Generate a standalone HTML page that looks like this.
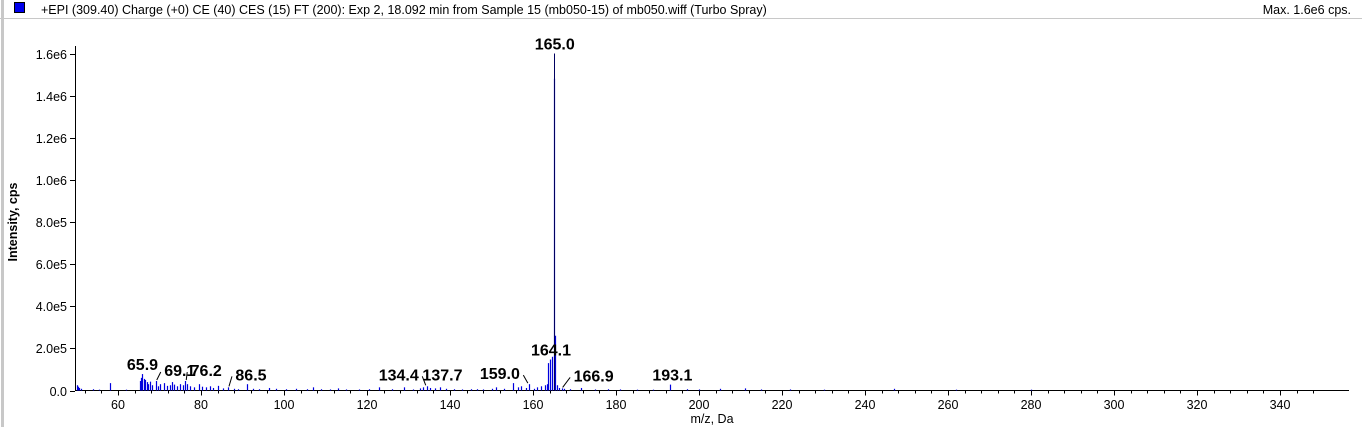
<!DOCTYPE html>
<html><head><meta charset="utf-8"><style>
html,body{margin:0;padding:0;background:#fff;}
svg{display:block;font-family:"Liberation Sans",Arial,sans-serif;}
</style></head><body>
<svg id="c" width="1362" height="427">
<rect x="0" y="0" width="1362" height="427" fill="#fff"/>
<line x1="2.5" y1="0" x2="2.5" y2="427" stroke="#c8c8c8" stroke-width="3"/>
<line x1="0" y1="18.5" x2="1362" y2="18.5" stroke="#c8c8c8"/>
<rect x="14.5" y="2.5" width="10" height="10" fill="#0000ee" stroke="#000" stroke-width="1"/>
<text x="41" y="14" font-size="12.5" fill="#000">+EPI (309.40) Charge (+0) CE (40) CES (15) FT (200): Exp 2, 18.092 min from Sample 15 (mb050-15) of mb050.wiff (Turbo Spray)</text>
<text x="1351" y="14" font-size="12.5" text-anchor="end" fill="#000">Max. 1.6e6 cps.</text>
<text transform="translate(17,222) rotate(-90)" font-size="12.5" font-weight="bold" text-anchor="middle">Intensity, cps</text>
<text x="712" y="423" font-size="12.5" text-anchor="middle">m/z, Da</text>
<g id="plot"></g>
</svg>
<script>
const xTicks=[60,80,100,120,140,160,180,200,220,240,260,280,300,320,340];
const yTicks=[0,200000,400000,600000,800000,1000000,1200000,1400000,1600000];
const yTickLabels=["0.0","2.0e5","4.0e5","6.0e5","8.0e5","1.0e6","1.2e6","1.4e6","1.6e6"];
const peakMz=[50.0,50.3,50.6,51.0,54.0,55.5,58.1,62,65.2,65.6,65.9,66.2,66.5,66.9,67.3,67.8,68.3,69.1,69.6,70.2,71.0,71.8,72.5,73.1,73.6,74.1,75.0,75.6,76.2,76.6,77.3,78.2,79.5,80.3,81.2,82.1,83.0,84.0,85.2,86.5,88.0,89.0,91.0,92.5,94.0,96.5,98.0,100.5,103,105.5,107,109,111,113,115,118,120.5,123,126,129,131,132.8,133.5,134.4,135.2,136.3,137.7,139,141,143,145,146.5,148,150,151,153,155.2,156.5,157.2,158.2,159.0,160.3,161,162,162.8,163.3,163.7,164.1,164.5,165.1,165.4,165.8,166.3,166.9,167.5,169,171.5,175,178,181,185,189,193.1,197,200,205,211,215,222,230,247,262,280];
const peakInt=[25000,18000,12000,8000,6000,4000,35000,4000,45000,60000,78000,55000,50000,40000,30000,42000,25000,45000,20000,30000,35000,22000,25000,40000,28000,20000,30000,25000,45000,30000,20000,15000,30000,18000,15000,20000,12000,22000,10000,15000,8000,6000,30000,8000,6000,12000,8000,6000,8000,6000,15000,6000,5000,10000,5000,5000,6000,15000,6000,15000,5000,10000,15000,20000,12000,10000,15000,8000,6000,5000,6000,6000,5000,8000,15000,8000,35000,15000,20000,12000,30000,8000,15000,20000,25000,30000,130000,147000,160000,1480000,260000,25000,12000,10000,8000,6000,12000,5000,6000,5000,4000,4000,28000,6000,5000,8000,10000,5000,5000,4000,8000,4000,4000];
const topPeakMz=[165.0];
const topPeakInt=[1600000];
const labelText=["65.9","69.1","76.2","86.5","134.4","137.7","159.0","164.1","165.0","166.9","193.1"];
const labelMz=[65.9,69.1,76.2,86.5,134.4,137.7,159.0,164.1,165.0,166.9,193.1];
const labelInt=[78000,45000,45000,15000,20000,15000,30000,147000,1600000,10000,28000];
// label offsets in pixels (layout, not data)
const labelDx=[0,24,21,23,-28,2,-29,1,1,32,2];
const labelDy=[-4,-5,-5,-7,-6,-7,-5,-4,-4,-7,-4];
const leader=[false,true,true,true,true,false,true,false,false,true,false];

const NS="http://www.w3.org/2000/svg";
const g=document.getElementById('plot');
const X0=76.5,PX=4.15,Y0=390.5,PY=337/1600000;
const xs=m=>X0+(m-50)*PX;
const ys=v=>Y0-v*PY;
function mk(t,a){const e=document.createElementNS(NS,t);for(const k in a)e.setAttribute(k,a[k]);g.appendChild(e);return e;}
let ax=mk('line',{x1:75.5,y1:46,x2:75.5,y2:Y0,stroke:'#000'});


let bx=mk('line',{x1:75,y1:Y0,x2:1349,y2:Y0,stroke:'#000'});


yTicks.forEach((v,i)=>{
  const y=Math.round(ys(v))+0.5;
  const t=mk('line',{x1:70,y1:y,x2:75,y2:y,stroke:'#000'});
  
  
  const l=mk('text',{x:67,y:y+4.5,'font-size':12.5,'text-anchor':'end'});
  l.textContent=yTickLabels[i];
  
  
});
for(let m=52;m<=348;m+=4){
  const x=Math.round(xs(m))+0.5;
  const major=xTicks.indexOf(m)>=0;
  const t=mk('line',{x1:x,y1:Y0,x2:x,y2:Y0+(major?5:3),stroke:'#000'});
  
  
}
xTicks.forEach(m=>{
  const l=mk('text',{x:xs(m),y:409,'font-size':12.5,'text-anchor':'middle'});
  l.textContent=m;
  
  
});
peakMz.forEach((m,i)=>{
  const x=Math.round(xs(m))+0.5;
  const p=mk('line',{x1:x,y1:Y0,x2:x,y2:ys(peakInt[i]),stroke:'#0000dd','stroke-width':1.2});
  
  
});
topPeakMz.forEach((m,i)=>{
  const x=Math.round(xs(m))+0.5;
  const p=mk('line',{x1:x,y1:Y0,x2:x,y2:ys(topPeakInt[i]),stroke:'#000060','stroke-width':1});
  
  
});
labelText.forEach((s,i)=>{
  const px=xs(labelMz[i]),py=ys(labelInt[i]);
  const tx=px+labelDx[i],ty=py+labelDy[i];
  const hw=s.length*4.5;
  if(leader[i]){
    const dir=labelDx[i]>0?1:-1;
    const ln=mk('line',{x1:px+dir*1,y1:py-1,x2:tx-dir*(hw+1),y2:ty-4,stroke:'#000'});
    
    
  }
  const t=mk('text',{x:tx,y:ty,'font-size':16,'font-weight':'bold','text-anchor':'middle'});
  t.textContent=s;
  
  
});
</script>
</body></html>
